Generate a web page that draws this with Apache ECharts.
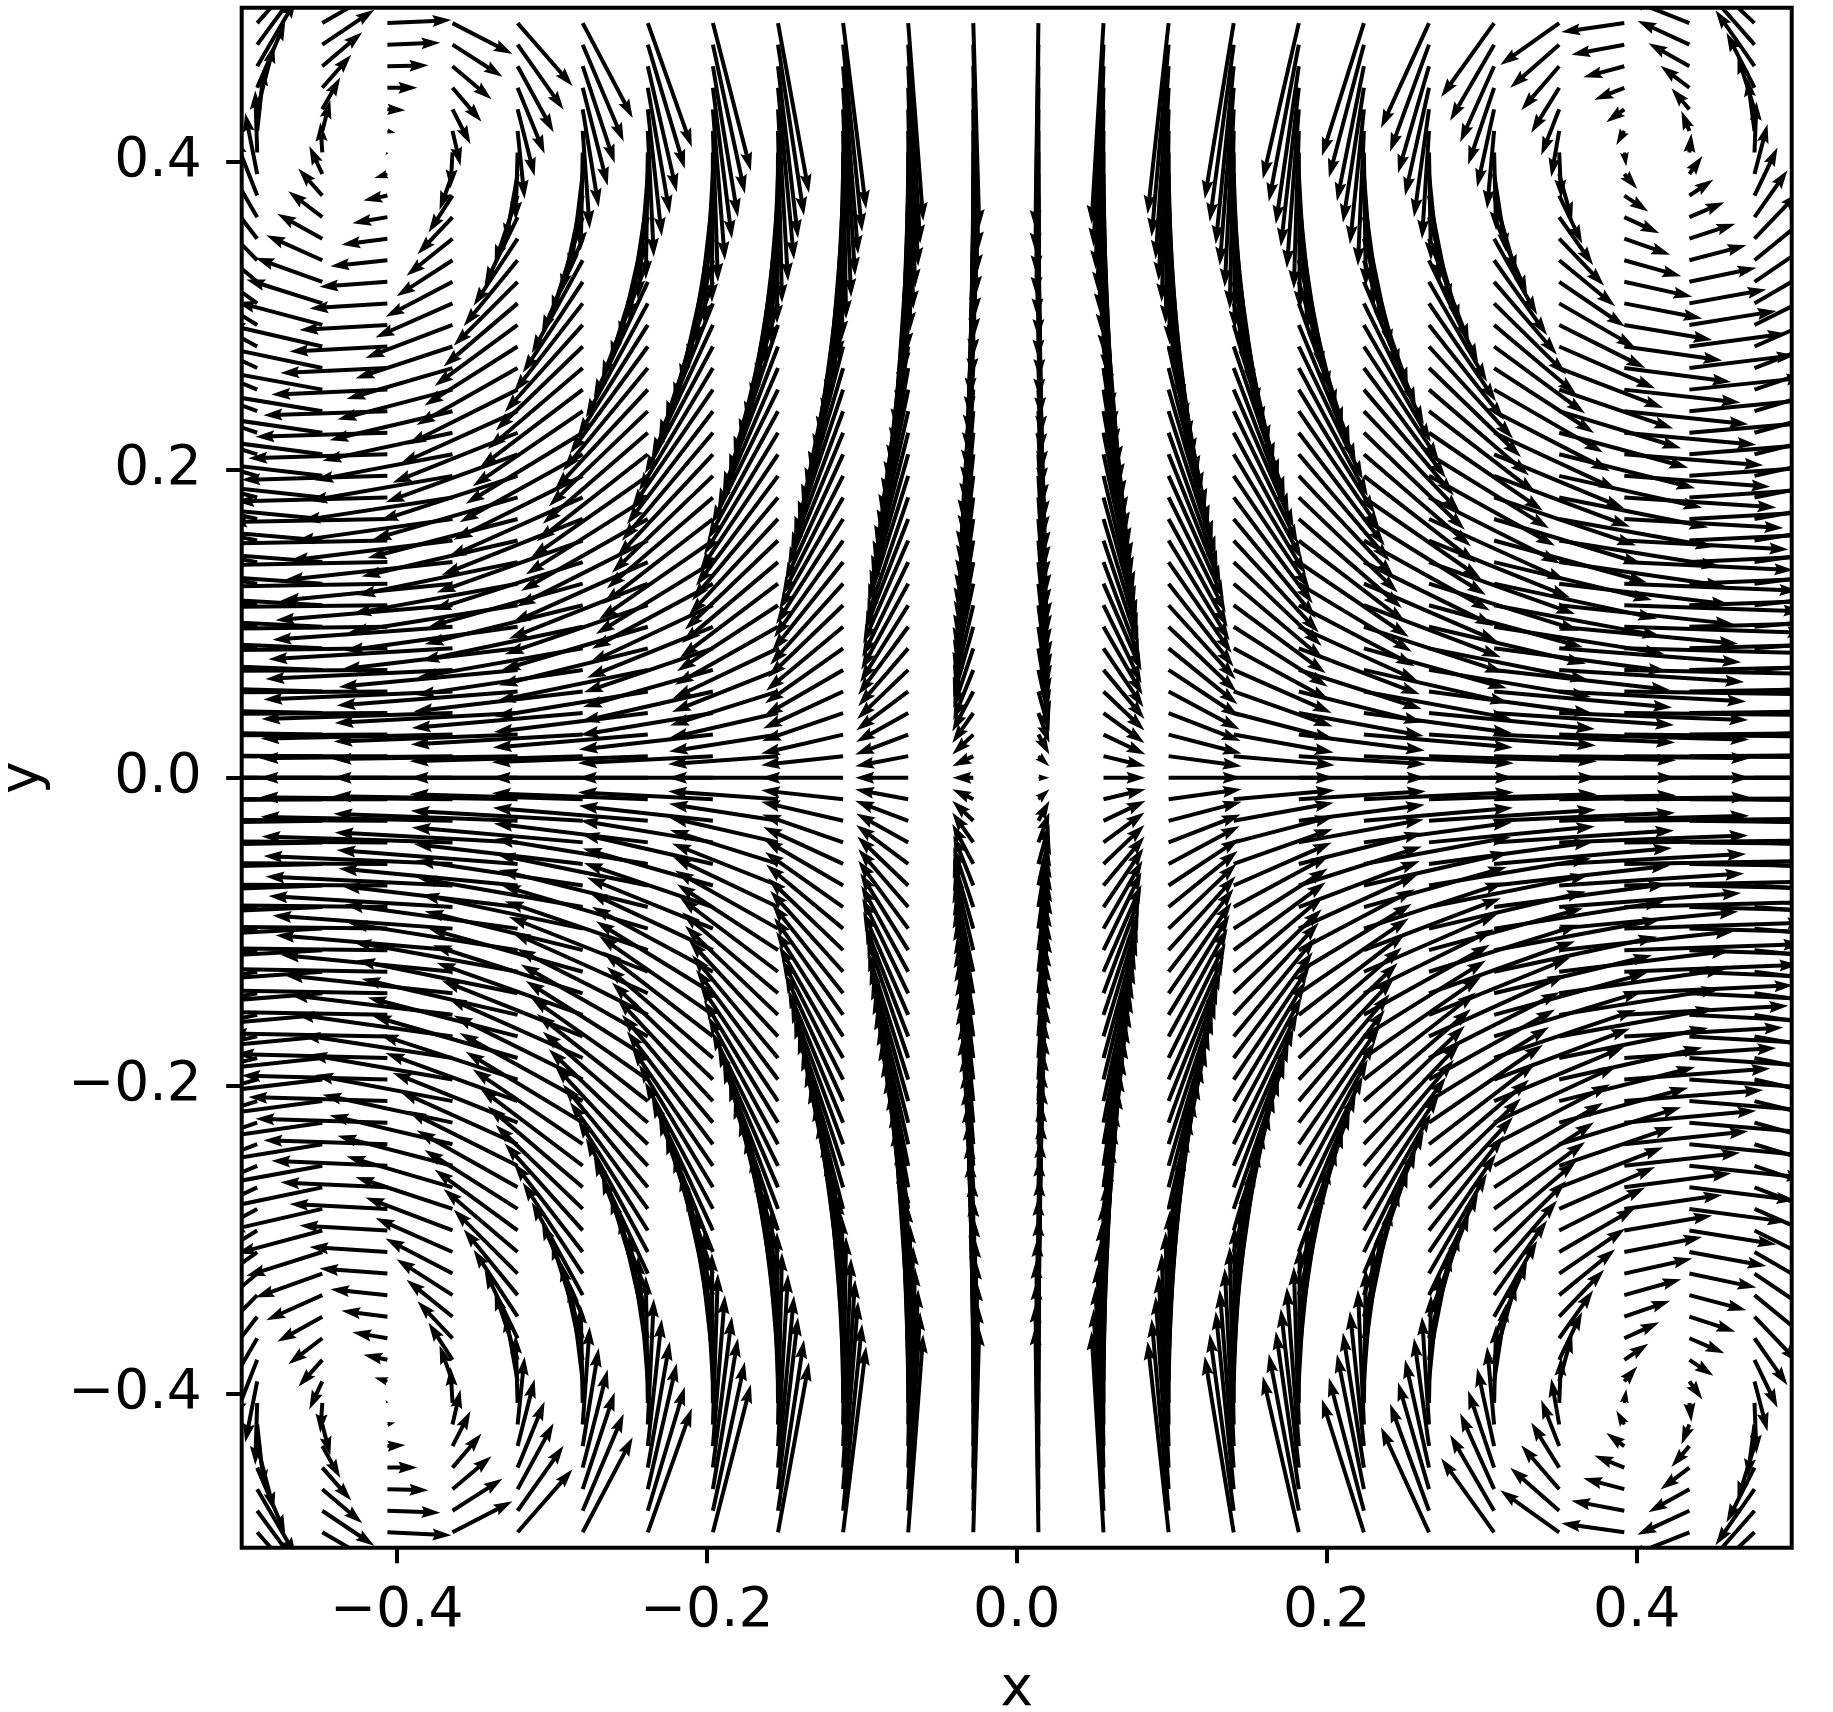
<!DOCTYPE html>
<html>
<head>
<meta charset="utf-8">
<style>
  html, body { margin: 0; padding: 0; background: #fff; }
  #chart { width: 1833px; height: 1712px; }
</style>
<script src="https://cdn.jsdelivr.net/npm/echarts@6/dist/echarts.min.js"></script>
</head>
<body>
<div id="chart"></div>
<script>
const tickValues = [-0.4, -0.2, 0, 0.2, 0.4]

// arrow tails, every column of the grid
const xValues = [-0.49, -0.448, -0.406, -0.364, -0.322, -0.28, -0.238, -0.196, -0.154, -0.112, -0.07, -0.028,
  0.014, 0.056, 0.098, 0.14, 0.182, 0.224, 0.266, 0.308, 0.35, 0.392, 0.434, 0.476]

// rows from y=0 up to the top, the part below y=0 is the same picture mirrored
const yValues = [0, 0.014, 0.028, 0.042, 0.056, 0.07, 0.084, 0.098, 0.112, 0.126, 0.14, 0.154,
  0.168, 0.182, 0.196, 0.21, 0.224, 0.238, 0.252, 0.266, 0.28, 0.294, 0.308, 0.322,
  0.336, 0.35, 0.364, 0.378, 0.392, 0.406, 0.42, 0.434, 0.448, 0.462, 0.476, 0.49]

// horizontal component, one row per yValues entry
const uRows = [
  [-184,-192,-195,-193,-185,-173,-156,-135,-110,-82,-53,-21,11,42,73,101,127,150,168,182,191,195,194,187],
  [-184,-192,-195,-193,-185,-173,-156,-135,-110,-82,-53,-21,11,42,73,101,127,150,168,182,191,195,194,187],
  [-183,-191,-194,-192,-184,-172,-155,-134,-109,-82,-53,-21,11,42,73,100,126,149,167,181,190,194,193,186],
  [-182,-190,-193,-191,-183,-171,-154,-133,-109,-81,-52,-21,11,41,72,100,125,148,166,180,189,193,192,185],
  [-180,-188,-191,-189,-181,-169,-153,-132,-108,-80,-52,-21,11,41,71,99,124,147,164,178,187,191,190,183],
  [-178,-186,-188,-187,-179,-167,-151,-130,-106,-79,-51,-20,11,41,71,98,123,145,162,176,185,188,188,181],
  [-175,-183,-186,-184,-176,-165,-149,-129,-105,-78,-50,-20,10,40,69,96,121,143,160,173,182,186,185,178],
  [-172,-180,-182,-180,-173,-162,-146,-126,-103,-77,-50,-20,10,39,68,94,119,140,157,170,179,182,181,175],
  [-168,-176,-178,-177,-169,-158,-143,-124,-101,-75,-48,-19,10,38,67,92,116,137,154,167,175,178,178,171],
  [-164,-171,-174,-172,-165,-154,-139,-121,-98,-73,-47,-19,10,38,65,90,113,134,150,163,171,174,173,167],
  [-160,-167,-169,-168,-161,-150,-136,-117,-96,-71,-46,-18,10,36,63,88,110,130,146,158,166,169,169,163],
  [-155,-162,-164,-163,-156,-146,-131,-114,-93,-69,-45,-18,9,35,61,85,107,126,141,153,161,164,163,157],
  [-150,-156,-159,-157,-150,-141,-127,-110,-89,-67,-43,-17,9,34,59,82,103,122,137,148,155,159,158,152],
  [-144,-150,-152,-151,-145,-135,-122,-106,-86,-64,-41,-16,9,33,57,79,99,117,131,142,149,152,152,146],
  [-138,-144,-146,-144,-138,-129,-117,-101,-82,-61,-40,-16,8,31,55,76,95,112,126,136,143,146,145,140],
  [-131,-137,-139,-138,-132,-123,-111,-96,-78,-58,-38,-15,8,30,52,72,91,107,120,130,136,139,138,133],
  [-124,-130,-132,-130,-125,-117,-105,-91,-74,-55,-36,-14,7,28,49,68,86,101,114,123,129,132,131,126],
  [-117,-122,-124,-123,-118,-110,-99,-86,-70,-52,-34,-13,7,27,47,64,81,96,107,116,122,124,124,119],
  [-110,-115,-116,-115,-110,-103,-93,-81,-66,-49,-32,-13,7,25,44,60,76,90,100,109,114,116,116,112],
  [-101,-105,-107,-106,-101,-95,-85,-74,-60,-45,-29,-11,6,23,40,55,69,82,92,100,104,107,106,102],
  [-92,-96,-98,-97,-93,-87,-78,-68,-55,-41,-27,-11,6,21,37,51,64,75,84,91,96,98,97,94],
  [-83,-86,-88,-87,-83,-78,-70,-61,-49,-37,-24,-9,5,19,33,45,57,67,75,82,86,88,87,84],
  [-73,-76,-78,-77,-74,-69,-62,-54,-44,-33,-21,-8,4,17,29,40,51,60,67,72,76,78,77,74],
  [-64,-67,-68,-67,-64,-60,-54,-47,-38,-28,-18,-7,4,15,25,35,44,52,58,63,66,68,67,65],
  [-54,-56,-57,-56,-54,-51,-46,-39,-32,-24,-15,-6,3,12,21,29,37,44,49,53,56,57,57,55],
  [-43,-45,-46,-46,-44,-41,-37,-32,-26,-19,-13,-5,3,10,17,24,30,35,40,43,45,46,46,44],
  [-33,-34,-35,-35,-33,-31,-28,-24,-20,-15,-9,-4,2,8,13,18,23,27,30,33,34,35,35,33],
  [-23,-24,-24,-24,-23,-21,-19,-17,-14,-10,-7,-3,1,5,9,12,16,18,21,22,23,24,24,23],
  [-12,-13,-13,-13,-12,-12,-10,-9,-7,-5,-4,-1,1,3,5,7,9,10,11,12,13,13,13,13],
  [-2,-2,-2,-2,-2,-2,-2,-1,-1,-1,-1,0,0,0,1,1,1,2,2,2,2,2,2,2],
  [7,8,8,8,7,7,6,5,4,3,2,1,0,-2,-3,-4,-5,-6,-7,-7,-8,-8,-8,-7],
  [17,18,18,18,17,16,14,12,10,8,5,2,-1,-4,-7,-9,-12,-14,-15,-17,-18,-18,-18,-17],
  [28,29,30,29,27,25,22,19,16,12,7,3,-2,-6,-10,-14,-18,-21,-24,-26,-28,-30,-29,-28],
  [39,40,41,39,36,32,29,25,20,15,10,4,-2,-8,-13,-18,-23,-27,-31,-34,-38,-41,-41,-39],
  [50,52,53,50,46,41,37,32,26,19,12,5,-3,-10,-17,-24,-30,-35,-39,-44,-49,-53,-52,-50],
  [60,62,64,60,55,50,44,38,31,23,15,6,-3,-12,-21,-29,-36,-42,-48,-53,-59,-63,-63,-61],
]

// vertical component, same layout as uRows
const vRows = [
  [0,0,0,0,0,0,0,0,0,0,0,0,0,0,0,0,0,0,0,0,0,0,0,0],
  [3,1,0,-2,-3,-5,-6,-7,-8,-9,-10,-10,-10,-10,-10,-9,-8,-7,-5,-4,-2,-1,1,2],
  [6,3,-1,-4,-7,-10,-13,-15,-17,-19,-20,-20,-20,-20,-19,-18,-16,-13,-11,-8,-5,-2,2,5],
  [9,4,-1,-6,-10,-15,-19,-22,-25,-28,-29,-30,-30,-30,-28,-26,-23,-20,-16,-12,-7,-2,2,7],
  [12,5,-1,-8,-14,-20,-25,-30,-34,-37,-39,-40,-40,-39,-38,-35,-31,-27,-22,-16,-10,-3,3,10],
  [15,7,-1,-9,-17,-25,-31,-37,-42,-46,-49,-50,-50,-49,-47,-43,-39,-33,-27,-20,-12,-4,4,12],
  [17,8,-2,-11,-21,-29,-37,-44,-50,-55,-58,-60,-60,-59,-56,-52,-46,-40,-32,-23,-14,-5,5,14],
  [20,9,-2,-13,-24,-34,-43,-51,-58,-64,-68,-70,-70,-68,-65,-60,-54,-46,-37,-27,-17,-6,5,16],
  [23,10,-2,-15,-27,-39,-49,-58,-66,-72,-77,-79,-79,-78,-74,-68,-61,-52,-42,-31,-19,-6,6,19],
  [26,12,-3,-17,-30,-43,-55,-65,-74,-81,-86,-88,-89,-87,-83,-76,-68,-58,-47,-35,-21,-7,7,21],
  [28,13,-3,-18,-33,-48,-61,-72,-81,-89,-95,-97,-98,-96,-91,-84,-75,-64,-52,-38,-24,-8,8,23],
  [31,14,-3,-20,-36,-52,-66,-79,-89,-97,-103,-106,-107,-104,-100,-92,-82,-70,-57,-42,-26,-9,8,25],
  [33,15,-3,-22,-39,-56,-72,-85,-96,-105,-111,-115,-115,-113,-108,-99,-89,-76,-62,-45,-28,-9,9,27],
  [36,16,-4,-23,-42,-60,-77,-91,-103,-112,-120,-123,-124,-121,-115,-106,-95,-81,-66,-48,-30,-10,10,29],
  [38,17,-4,-25,-45,-64,-82,-97,-110,-120,-127,-131,-132,-129,-123,-113,-101,-87,-70,-51,-32,-11,10,31],
  [40,18,-4,-26,-48,-68,-87,-103,-116,-127,-135,-139,-139,-136,-130,-120,-107,-92,-74,-54,-34,-11,11,33],
  [42,19,-4,-28,-50,-71,-91,-108,-122,-133,-142,-146,-147,-143,-137,-126,-113,-97,-78,-57,-35,-12,11,35],
  [44,20,-4,-29,-53,-75,-95,-113,-128,-140,-149,-153,-154,-150,-144,-132,-118,-101,-82,-60,-37,-13,12,36],
  [46,21,-5,-30,-55,-78,-100,-118,-134,-146,-155,-160,-161,-157,-150,-138,-124,-106,-86,-63,-39,-13,12,38],
  [48,22,-5,-31,-57,-81,-103,-123,-139,-152,-161,-166,-167,-163,-156,-144,-128,-110,-89,-65,-40,-14,13,39],
  [50,22,-5,-32,-59,-84,-107,-127,-144,-157,-167,-172,-173,-169,-161,-149,-133,-114,-92,-67,-42,-14,13,41],
  [51,23,-5,-33,-61,-87,-111,-131,-148,-162,-172,-177,-178,-174,-166,-153,-137,-117,-95,-69,-43,-15,14,42],
  [53,24,-5,-34,-63,-89,-114,-135,-152,-167,-177,-182,-183,-179,-171,-158,-141,-121,-98,-71,-44,-15,14,43],
  [54,24,-5,-35,-64,-91,-116,-138,-156,-171,-182,-187,-188,-183,-175,-162,-144,-124,-100,-73,-45,-15,14,44],
  [55,25,-6,-36,-66,-93,-119,-141,-160,-175,-186,-191,-192,-187,-179,-165,-148,-126,-102,-75,-46,-16,15,45],
  [56,25,-6,-37,-67,-95,-121,-144,-163,-178,-189,-195,-196,-191,-183,-168,-151,-129,-104,-76,-47,-16,15,46],
  [57,26,-6,-37,-68,-97,-123,-146,-165,-181,-192,-198,-199,-194,-186,-171,-153,-131,-106,-77,-48,-16,15,47],
  [59,27,-5,-37,-68,-97,-125,-148,-168,-183,-195,-201,-202,-197,-188,-174,-155,-133,-107,-78,-48,-16,16,48],
  [61,28,-4,-36,-68,-98,-125,-149,-170,-185,-197,-203,-204,-199,-190,-175,-157,-133,-108,-78,-47,-15,18,50],
  [62,30,-3,-36,-68,-98,-127,-150,-171,-187,-199,-205,-206,-201,-192,-177,-157,-134,-108,-78,-46,-14,19,51],
  [64,31,-2,-35,-68,-98,-126,-151,-172,-188,-200,-206,-207,-202,-193,-178,-158,-135,-108,-78,-46,-14,20,53],
  [65,32,-1,-35,-67,-98,-127,-151,-172,-188,-200,-207,-208,-203,-193,-178,-159,-135,-108,-78,-46,-13,21,54],
  [66,33,0,-34,-66,-98,-126,-151,-172,-188,-200,-207,-208,-203,-193,-178,-159,-135,-108,-77,-45,-12,22,55],
  [67,34,1,-33,-66,-97,-126,-151,-172,-188,-200,-207,-208,-203,-193,-178,-158,-135,-107,-76,-44,-11,23,56],
  [68,35,2,-32,-65,-97,-124,-149,-171,-187,-199,-206,-207,-202,-192,-177,-157,-133,-107,-76,-43,-10,24,57],
  [68,36,3,-31,-63,-95,-124,-148,-170,-186,-198,-205,-206,-201,-191,-176,-156,-133,-105,-74,-42,-9,25,57],
]

// table for the custom series: x, y, u, v
const arrows = []
for (let j = yValues.length - 1; j > 0; j--) {
  xValues.forEach((x, i) => arrows.push([x, -yValues[j], uRows[j][i], -vRows[j][i]]))
}
for (let j = 0; j < yValues.length; j++) {
  xValues.forEach((x, i) => arrows.push([x, yValues[j], uRows[j][i], vRows[j][i]]))
}

// quiver arrow proportions, in pixels
const shaftWidth = 4
const headWidth = 12
const headLength = 19
const headAxisLength = 17

function renderArrow(params, api) {
  const tail = api.coord([api.value(0), api.value(1)])
  const dx = api.value(2)
  const dy = -api.value(3)
  const len = Math.hypot(dx, dy)
  if (len === 0) return null
  // short arrows shrink as a whole, as quiver does
  const k = Math.min(1, len / headLength)
  const w = (shaftWidth * k) / 2
  const hw = (headWidth * k) / 2
  const neck = len - headAxisLength * k
  const back = len - headLength * k
  const shape = [[0, w], [neck, w], [back, hw], [len, 0], [back, -hw], [neck, -w], [0, -w]]
  const c = dx / len
  const s = dy / len
  return {
    type: 'polygon',
    silent: true,
    shape: { points: shape.map(([a, b]) => [tail[0] + a * c - b * s, tail[1] + a * s + b * c]) },
    style: { fill: '#000' },
  }
}

const axisFont = { fontFamily: 'DejaVu Sans', fontSize: 55, color: '#000' }
const fmtTick = (v) => (v < 0 ? '\u2212' : '') + Math.abs(v).toFixed(1)

const chart = echarts.init(document.getElementById('chart'), null, { renderer: 'canvas' })
chart.setOption({
  animation: false,
  backgroundColor: '#fff',
  grid: {
    left: 241.7, top: 7.7, width: 1550, height: 1540,
    outerBoundsMode: 'none',
    show: true, borderColor: '#000', borderWidth: 4, backgroundColor: 'transparent',
  },
  xAxis: {
    type: 'value', min: -0.5, max: 0.5,
    name: 'x', nameLocation: 'middle', nameGap: 116, nameTextStyle: axisFont,
    axisLine: { show: false, onZero: false },
    axisTick: { show: true, length: 15.5, lineStyle: { color: '#000', width: 4 }, customValues: tickValues },
    axisLabel: { ...axisFont, margin: 37, formatter: fmtTick, customValues: tickValues },
    splitLine: { show: false },
  },
  yAxis: {
    type: 'value', min: -0.5, max: 0.5,
    name: 'y', nameLocation: 'middle', nameGap: 190, nameTextStyle: axisFont,
    axisLine: { show: false, onZero: false },
    axisTick: { show: true, length: 15.5, lineStyle: { color: '#000', width: 4 }, customValues: tickValues },
    axisLabel: { ...axisFont, margin: 40, formatter: fmtTick, customValues: tickValues },
    splitLine: { show: false },
  },
  series: [{
    type: 'custom',
    coordinateSystem: 'cartesian2d',
    clip: true,
    progressive: 0,
    encode: { x: 0, y: 1 },
    data: arrows,
    renderItem: renderArrow,
  }],
})
</script>
</body>
</html>
